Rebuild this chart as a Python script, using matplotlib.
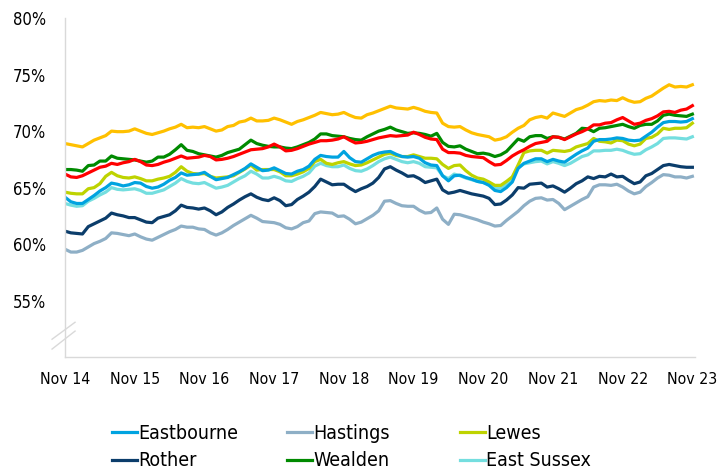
import matplotlib
matplotlib.use("Agg")
import matplotlib.pyplot as plt
from matplotlib.ticker import FuncFormatter

plt.rcParams['font.family'] = ['DejaVu Sans']
plt.rcParams['font.stretch'] = 'condensed'

# monthly, Nov 2014 .. Nov 2023 (109 points), percent
tick_labels = ["Nov 14", "Nov 15", "Nov 16", "Nov 17", "Nov 18",
               "Nov 19", "Nov 20", "Nov 21", "Nov 22", "Nov 23"]

south_east = [68.9, 68.8, 68.7, 68.6, 68.9, 69.2, 69.4, 69.6, 70.0, 69.95, 69.95, 70.0,
              70.2, 70.0, 69.8, 69.7, 69.85, 70.0, 70.2, 70.35, 70.6, 70.3, 70.35, 70.3,
              70.4, 70.2, 70.0, 70.1, 70.4, 70.5, 70.8, 70.9, 71.15, 70.9, 70.9, 70.95,
              71.15, 71.0, 70.8, 70.6, 70.85, 71.0, 71.2, 71.4, 71.65, 71.55, 71.45, 71.5,
              71.65, 71.4, 71.2, 71.15, 71.45, 71.6, 71.8, 72.0, 72.2, 72.05, 72.0, 71.95,
              72.1, 71.95, 71.75, 71.65, 71.6, 70.7, 70.4, 70.35, 70.4, 70.1, 69.85, 69.7,
              69.6, 69.5, 69.2, 69.3, 69.5, 69.9, 70.25, 70.5, 71.0, 71.2, 71.3, 71.15,
              71.6, 71.45, 71.3, 71.6, 71.9, 72.05, 72.3, 72.6, 72.7, 72.65, 72.75, 72.7,
              72.95, 72.7, 72.55, 72.6, 72.9, 73.1, 73.45, 73.8, 74.1, 73.9, 73.95, 73.9,
              74.1]

england = [66.2, 65.95, 65.9, 66.05, 66.3, 66.55, 66.8, 66.9, 67.15, 67.05, 67.2, 67.3,
           67.5, 67.3, 67.0, 66.95, 67.05, 67.25, 67.4, 67.6, 67.8, 67.6, 67.65, 67.7,
           67.85, 67.75, 67.45, 67.5, 67.6, 67.75, 67.95, 68.15, 68.35, 68.4, 68.45, 68.6,
           68.85, 68.6, 68.25, 68.3, 68.45, 68.65, 68.85, 69.0, 69.15, 69.15, 69.2, 69.3,
           69.5, 69.2, 68.95, 69.0, 69.1, 69.25, 69.4, 69.5, 69.6, 69.55, 69.6, 69.65,
           69.9, 69.7, 69.45, 69.3, 69.25, 68.4, 68.1, 68.1, 68.05, 67.85, 67.75, 67.7,
           67.65, 67.3, 67.0, 67.05, 67.4, 67.8, 68.1, 68.35, 68.65, 68.9, 69.0, 69.1,
           69.5, 69.45, 69.25, 69.5, 69.75, 69.95, 70.2, 70.55, 70.55, 70.7, 70.75, 71.0,
           71.2, 70.9, 70.6, 70.7, 70.95, 71.1, 71.35, 71.7, 71.75, 71.65, 71.85, 71.95,
           72.25]

wealden = [66.6, 66.6, 66.55, 66.45, 66.95, 67.0, 67.35, 67.35, 67.8, 67.6, 67.55, 67.5,
           67.45, 67.35, 67.25, 67.35, 67.7, 67.7, 67.95, 68.35, 68.8, 68.3, 68.2, 68.0,
           67.9, 67.8, 67.7, 67.85, 68.1, 68.25, 68.4, 68.8, 69.2, 68.9, 68.75, 68.65,
           68.6, 68.6, 68.5, 68.45, 68.6, 68.8, 69.0, 69.3, 69.75, 69.75, 69.6, 69.55,
           69.5, 69.35, 69.25, 69.2, 69.5, 69.75, 70.0, 70.15, 70.35, 70.1, 69.95, 69.8,
           69.85, 69.8, 69.7, 69.55, 69.8, 69.0, 68.65, 68.6, 68.7, 68.4, 68.2, 68.0,
           68.05, 67.95, 67.75, 67.9, 68.2, 68.75, 69.3, 69.1, 69.5, 69.6, 69.6, 69.35,
           69.5, 69.45, 69.3, 69.55, 69.8, 70.25, 70.2, 69.95, 70.25, 70.3, 70.4, 70.5,
           70.6, 70.4, 70.25, 70.5, 70.6, 70.6, 70.9, 71.4, 71.5, 71.4, 71.35, 71.3,
           71.5]

eastbourne = [64.15, 63.75, 63.6, 63.6, 63.95, 64.3, 64.7, 65.0, 65.4, 65.3, 65.15, 65.25,
              65.45, 65.4, 65.1, 64.95, 65.05, 65.3, 65.65, 65.9, 66.3, 66.1, 66.15, 66.2,
              66.35, 66.0, 65.7, 65.8, 65.9, 66.15, 66.4, 66.7, 67.1, 66.8, 66.5, 66.55,
              66.75, 66.5, 66.25, 66.2, 66.45, 66.6, 66.9, 67.5, 67.85, 67.75, 67.7, 67.7,
              68.2, 67.65, 67.3, 67.25, 67.55, 67.85, 68.05, 68.15, 68.2, 67.95, 67.75, 67.7,
              67.75, 67.6, 67.2, 67.0, 66.95, 66.05, 65.6, 66.05, 66.1, 65.9, 65.75, 65.55,
              65.45, 65.2, 64.75, 64.65, 65.0, 65.5, 66.7, 67.15, 67.35, 67.55, 67.55, 67.3,
              67.5, 67.35, 67.25, 67.6, 67.95, 68.25, 68.5, 69.1, 69.25, 69.25, 69.3, 69.4,
              69.35, 69.2, 69.15, 69.2, 69.55, 69.9, 70.35, 70.75, 70.85, 70.85, 70.8, 70.85,
              71.1]

lewes = [64.6, 64.5, 64.45, 64.45, 64.9, 65.0, 65.35, 66.0, 66.35, 66.05, 65.9, 65.85,
         65.95, 65.8, 65.6, 65.6, 65.75, 65.85, 66.0, 66.35, 66.85, 66.45, 66.25, 66.2,
         66.25, 66.0, 65.85, 65.9, 65.95, 66.05, 66.35, 66.65, 67.0, 66.55, 66.6, 66.6,
         66.6, 66.4, 66.05, 66.05, 66.2, 66.4, 66.7, 67.3, 67.5, 67.15, 67.05, 67.2,
         67.3, 67.1, 66.95, 67.0, 67.2, 67.45, 67.7, 67.95, 68.05, 67.85, 67.75, 67.75,
         67.9, 67.75, 67.6, 67.6, 67.55, 67.05, 66.7, 66.95, 67.0, 66.5, 66.1, 65.85,
         65.75, 65.5, 65.2, 65.2, 65.55, 65.95, 67.0, 68.1, 68.25, 68.3, 68.3, 68.05,
         68.3, 68.25, 68.2, 68.3, 68.6, 68.75, 68.9, 69.35, 69.1, 69.05, 68.95, 69.2,
         69.15, 68.85, 68.7, 68.85, 69.35, 69.45, 69.75, 70.25, 70.15, 70.25, 70.25, 70.3,
         70.7]

east_sussex = [63.6, 63.45, 63.35, 63.4, 63.8, 64.05, 64.35, 64.6, 65.0, 64.85, 64.8, 64.85,
               64.9, 64.75, 64.5, 64.5, 64.65, 64.8, 65.1, 65.4, 65.8, 65.55, 65.4, 65.35,
               65.45, 65.2, 64.95, 65.05, 65.2, 65.5, 65.8, 66.05, 66.45, 66.2, 65.85, 65.85,
               66.0, 65.85, 65.6, 65.55, 65.8, 66.0, 66.3, 66.9, 67.15, 66.95, 66.85, 66.85,
               67.0, 66.7, 66.5, 66.45, 66.65, 66.95, 67.3, 67.55, 67.7, 67.5, 67.3, 67.2,
               67.3, 67.15, 66.85, 66.8, 66.75, 66.05, 65.8, 66.2, 66.05, 65.85, 65.7, 65.55,
               65.45, 65.3, 65.0, 64.95, 65.3, 65.9, 66.75, 67.1, 67.2, 67.3, 67.35, 67.1,
               67.3, 67.15, 66.95, 67.15, 67.45, 67.75, 67.9, 68.25, 68.25, 68.3, 68.3, 68.4,
               68.3, 68.1, 67.95, 68.0, 68.35, 68.6, 68.9, 69.35, 69.4, 69.4, 69.35, 69.3,
               69.5]

rother = [61.15, 61.0, 60.95, 60.9, 61.55, 61.8, 62.05, 62.3, 62.75, 62.6, 62.5, 62.35,
          62.35, 62.15, 61.95, 61.9, 62.3, 62.45, 62.6, 62.95, 63.45, 63.25, 63.2, 63.1,
          63.2, 62.95, 62.6, 62.85, 63.25, 63.55, 63.9, 64.2, 64.45, 64.15, 63.95, 63.85,
          64.1, 63.85, 63.4, 63.5, 63.95, 64.25, 64.6, 65.1, 65.75, 65.5, 65.25, 65.3,
          65.3, 64.95, 64.65, 64.9, 65.1, 65.4, 65.9, 66.65, 66.85, 66.55, 66.3, 66.0,
          66.05, 65.8, 65.45, 65.6, 65.75, 64.8, 64.5, 64.6, 64.75, 64.6, 64.45, 64.35,
          64.25, 64.05, 63.5, 63.55, 63.9, 64.35, 65.0, 64.95, 65.3, 65.35, 65.4, 65.05,
          65.15, 64.9, 64.6, 64.95, 65.35, 65.6, 65.95, 65.8, 66.0, 65.95, 66.2, 65.95,
          66.0, 65.65, 65.35, 65.5, 66.05, 66.25, 66.6, 66.95, 67.05, 66.95, 66.85, 66.8,
          66.8]

hastings = [59.55, 59.3, 59.3, 59.45, 59.75, 60.05, 60.25, 60.5, 61.0, 60.95, 60.85, 60.75,
            60.9, 60.65, 60.45, 60.35, 60.6, 60.85, 61.1, 61.3, 61.6, 61.5, 61.5, 61.35,
            61.3, 61.0, 60.8, 61.0, 61.3, 61.65, 61.95, 62.25, 62.55, 62.3, 62.0, 61.95,
            61.9, 61.75, 61.45, 61.35, 61.55, 61.9, 62.05, 62.7, 62.85, 62.8, 62.75, 62.45,
            62.5, 62.2, 61.8, 61.95, 62.25, 62.55, 62.95, 63.8, 63.85, 63.6, 63.4, 63.35,
            63.35, 63.0, 62.75, 62.8, 63.2, 62.2, 61.75, 62.65, 62.6, 62.45, 62.3, 62.15,
            61.95, 61.8, 61.6, 61.65, 62.1, 62.5, 62.9, 63.4, 63.8, 64.05, 64.1, 63.9,
            63.95, 63.6, 63.05, 63.35, 63.65, 63.95, 64.2, 65.05, 65.25, 65.25, 65.2, 65.3,
            65.05, 64.7, 64.45, 64.6, 65.1, 65.45, 65.85, 66.15, 66.1, 65.95, 65.95, 65.85,
            66.0]

months = list(range(len(hastings)))

fig = plt.figure(figsize=(7.17, 4.75), dpi=100)
ax = fig.add_axes([0.0907, 0.248, 0.879, 0.714])

lw = 2.3
ax.plot(months, hastings, color='#8EAFC6', lw=lw, label='Hastings')
ax.plot(months, rother, color='#0B3D6B', lw=lw, label='Rother')
ax.plot(months, east_sussex, color='#74DEDF', lw=lw, label='East Sussex')
ax.plot(months, lewes, color='#BED300', lw=lw, label='Lewes')
ax.plot(months, eastbourne, color='#00A3E0', lw=lw, label='Eastbourne')
ax.plot(months, wealden, color='#008A00', lw=lw, label='Wealden')
ax.plot(months, england, color='#FF0000', lw=lw, label='_nolegend_')
ax.plot(months, south_east, color='#FFC000', lw=lw, label='_nolegend_')

ax.set_xlim(0, 108.5)
ax.set_ylim(50, 80)
ax.set_yticks([55, 60, 65, 70, 75, 80])
ax.yaxis.set_major_formatter(FuncFormatter(lambda v, p: '%d%%' % v))
ax.set_xticks(range(0, 109, 12))
ax.set_xticklabels(tick_labels)
ax.tick_params(axis='both', length=0, colors='black')
ax.tick_params(axis='y', pad=13.7, labelsize=12)
ax.tick_params(axis='x', pad=10.4, labelsize=11.4)

for s in ['top', 'right']:
    ax.spines[s].set_visible(False)
for s in ['left', 'bottom']:
    ax.spines[s].set_color('#D9D9D9')
    ax.spines[s].set_linewidth(1.0)

# axis break marks
ax.plot([-0.0206, 0.0159], [0.053, 0.103], transform=ax.transAxes,
        color='#D9D9D9', lw=1.0, clip_on=False)
ax.plot([-0.0206, 0.0159], [0.024, 0.077], transform=ax.transAxes,
        color='#D9D9D9', lw=1.0, clip_on=False)

# legend: three evenly spaced columns
h, l = ax.get_legend_handles_labels()
columns = [['Eastbourne', 'Rother'], ['Hastings', 'Wealden'], ['Lewes', 'East Sussex']]
col_x = [112 / 717, 287 / 717, 460 / 717]
for names, x0 in zip(columns, col_x):
    leg = fig.legend([h[l.index(n)] for n in names], names, loc='center left',
                     bbox_to_anchor=(x0, 0.059), frameon=False, fontsize=14,
                     handlelength=1.3, handletextpad=0.05, labelspacing=0.45,
                     borderpad=0, borderaxespad=0)

fig.savefig('out.png', dpi=100)
